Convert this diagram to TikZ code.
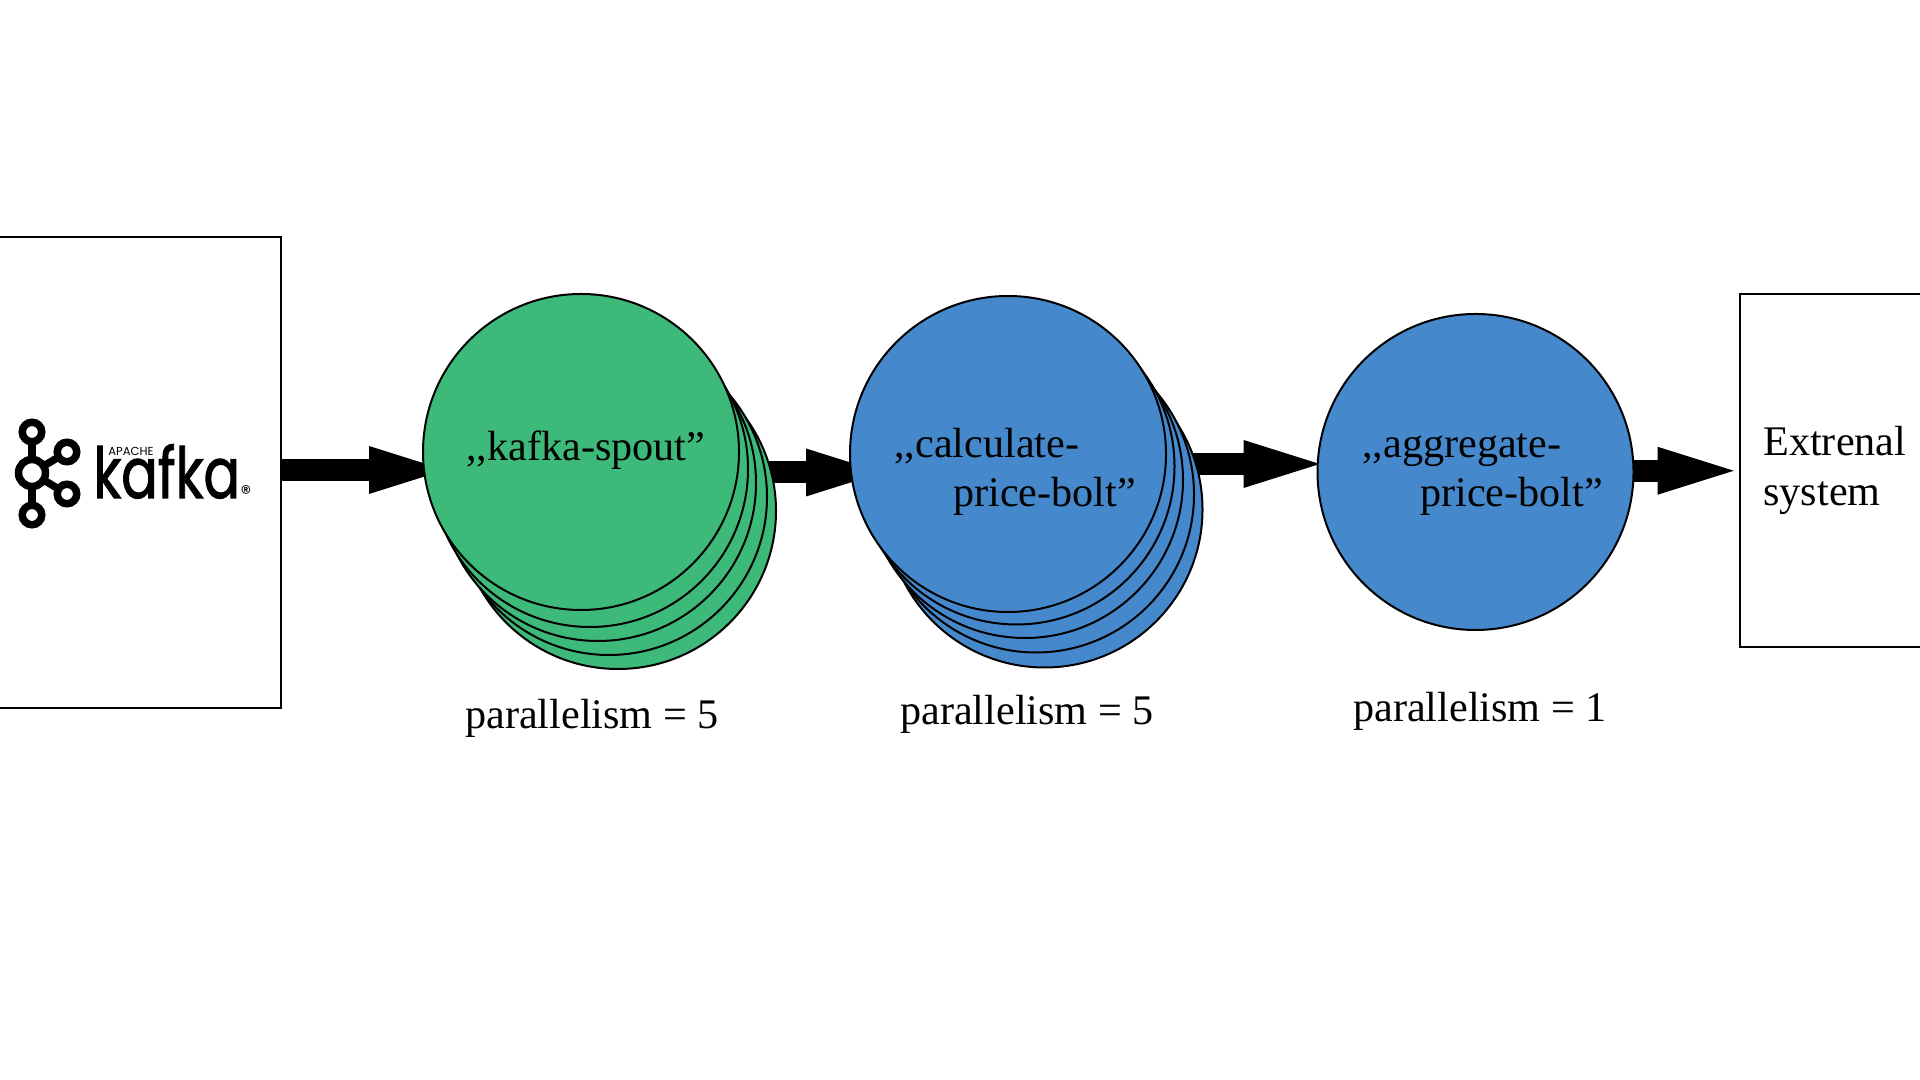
\documentclass[tikz,border=0pt]{standalone}
\usepackage{fontspec}
\setmainfont{Liberation Serif}
\newfontfamily\logofont{Poppins}
\newfontfamily\logoheavy{Poppins}[FakeBold=1.6]
\usetikzlibrary{positioning,calc,arrows.meta}
\definecolor{spoutgreen}{RGB}{61,185,122}
\definecolor{boltblue}{RGB}{69,137,204}
\pgfdeclarelayer{back}
\pgfsetlayers{back,main}

\begin{document}
\begin{tikzpicture}
    \tikzstyle{box}=[rectangle, draw=black, line width=0.04cm, inner sep=0];
    \tikzstyle{spoutcircle}=[circle, draw=black, fill=spoutgreen, line width=0.04cm, minimum size=6.32cm, inner sep=0];
    \tikzstyle{boltcircle}=[circle, draw=black, fill=boltblue, line width=0.04cm, minimum size=6.32cm, inner sep=0];
    \tikzstyle{caption}=[anchor=base west, inner sep=0, font=\fontsize{24}{28}\selectfont];
    \tikzstyle{flow}=[line width=0.44cm, -{Triangle[length=1.87cm, width=0.78cm]}];
    \tikzstyle{ring}=[circle, draw=black, line width=0.15cm, inner sep=0, outer sep=0];
    \tikzstyle{ringline}=[line width=0.15cm];

    \useasboundingbox (0,0) rectangle (38.4,21.6);

    \node[box, minimum width=5.82cm, minimum height=9.42cm] (kafka) at (2.71, 12.14) {};
    \node[box, minimum width=3.8cm, minimum height=7.07cm] (sink) at (36.7, 12.185) {};

    % kafka logo
    \node[ring, minimum size=0.39cm] (ringtop) at (0.64, 12.96) {};
    \node[ring, minimum size=0.54cm] (ringmid) at (0.64, 12.14) {};
    \node[ring, minimum size=0.39cm] (ringbottom) at (0.64, 11.30) {};
    \node[ring, minimum size=0.39cm] (ringup) at (1.34, 12.56) {};
    \node[ring, minimum size=0.39cm] (ringdown) at (1.34, 11.72) {};
    \draw[ringline] (ringtop) -- (ringmid);
    \draw[ringline] (ringbottom) -- (ringmid);
    \draw[ringline] (ringup) -- (ringmid);
    \draw[ringline] (ringdown) -- (ringmid);
    \node[anchor=base west, inner sep=0, font=\logoheavy\fontsize{40}{40}\selectfont] (kafkaword) at (1.86, 11.64) {\scalebox{0.77}[1]{kafka}};
    \node[anchor=base west, inner sep=0, font=\logofont\fontsize{6.6}{8}\selectfont] (apache) at (2.16, 12.48) {APACHE};
    \node[anchor=center, inner sep=0, font=\logofont\fontsize{12}{12}\selectfont] (registered) at (4.92, 11.74) {®};

    % green stack
    \foreach \n/\x/\y in {4/12.36/11.38, 3/12.18/11.66, 2/11.96/11.94, 1/11.8/12.22}
        \node[spoutcircle] (spout\n) at (\x, \y) {};
    \node[spoutcircle] (spout) at (11.62, 12.56) {};

    % blue stack
    \foreach \n/\x/\y in {4/20.89/11.41, 3/20.72/11.71, 2/20.5/12.0, 1/20.33/12.27}
        \node[boltcircle] (calc\n) at (\x, \y) {};
    \node[boltcircle] (calc) at (20.16, 12.52) {};

    \node[boltcircle] (aggregate) at (29.51, 12.16) {};

    \begin{pgfonlayer}{back}
        \draw[flow] ([yshift=0.06cm]kafka.east) -- ([xshift=0.81cm, yshift=0.06cm]kafka.east -| spout.west);
        \draw[flow] ([yshift=0.01cm]spout4.center |- kafka.east) -- ([xshift=1.01cm, yshift=0.01cm]kafka.east -| calc.west);
        \draw[flow] ([yshift=-0.2cm]calc4.center |- calc.center) -- ([xshift=0.41cm, yshift=-0.2cm]calc.center -| aggregate.west);
        \draw[flow] (aggregate.center |- sink.west) -- ([xshift=0.24cm]sink.west);
    \end{pgfonlayer}

    \node[caption] (spouttext) at (9.32, 12.39) {,{},kafka-spout”};
    \node[caption] (calctext) at (17.88, 12.44) {,{},calculate-};
    \node[caption] (calctext2) at (19.06, 11.46) {price-bolt”};
    \node[caption] (aggtext) at (27.24, 12.44) {,{},aggregate-};
    \node[caption] (aggtext2) at (28.4, 11.46) {price-bolt”};
    \node[caption] (sinktext) at (35.26, 12.49) {Extrenal};
    \node[caption] (sinktext2) at (35.26, 11.49) {system};

    \node[caption] (spoutpar) at (9.3, 7.03) {parallelism = 5};
    \node[caption] (calcpar) at (18.0, 7.1) {parallelism = 5};
    \node[caption] (aggpar) at (27.06, 7.17) {parallelism = 1};
\end{tikzpicture}
\end{document}
